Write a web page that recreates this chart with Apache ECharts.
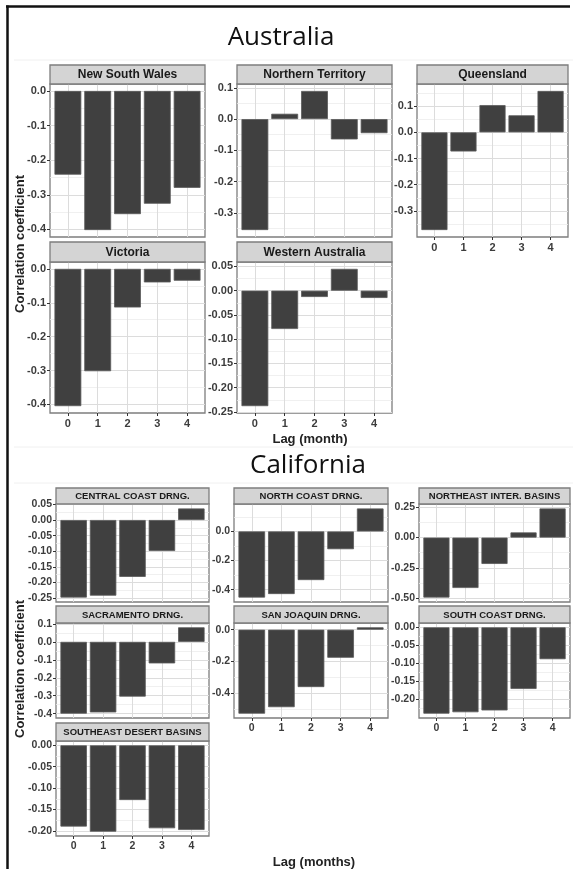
<!DOCTYPE html>
<html>
<head>
<meta charset="utf-8">
<script src="https://cdn.jsdelivr.net/npm/echarts@6/dist/echarts.min.js"></script>
<style>
html,body{margin:0;padding:0;background:#ffffff;}
#chart{width:573px;height:869px;}
</style>
</head>
<body>
<div id="chart"></div>
<script>
// ---------------- DATA ----------------
const lags = [0, 1, 2, 3, 4];
const lagLabels = ['0', '1', '2', '3', '4'];
const regionTitles = ['Australia', 'California'];
const xAxisTitles = ['Lag (month)', 'Lag (months)'];
const yAxisTitle = 'Correlation coefficient';

const australiaPanels = ['New South Wales', 'Northern Territory', 'Queensland', 'Victoria', 'Western Australia'];
const californiaPanels = ['CENTRAL COAST DRNG.', 'NORTH COAST DRNG.', 'NORTHEAST INTER. BASINS',
  'SACRAMENTO DRNG.', 'SAN JOAQUIN DRNG.', 'SOUTH COAST DRNG.', 'SOUTHEAST DESERT BASINS'];

const newSouthWales     = [-0.242, -0.402, -0.356, -0.326, -0.280];
const northernTerritory = [-0.355,  0.017,  0.090, -0.065, -0.045];
const queensland        = [-0.373, -0.073,  0.104,  0.065,  0.158];
const victoria          = [-0.405, -0.302, -0.114, -0.040, -0.035];
const westernAustralia  = [-0.238, -0.079, -0.013,  0.045, -0.015];

const centralCoast      = [-0.248, -0.242, -0.182, -0.099,  0.037];
const northCoast        = [-0.454, -0.430, -0.334, -0.122,  0.158];
const northeastInter    = [-0.496, -0.417, -0.218,  0.043,  0.241];
const sacramento        = [-0.400, -0.393, -0.305, -0.120,  0.081];
const sanJoaquin        = [-0.530, -0.489, -0.362, -0.177,  0.015];
const southCoast        = [-0.241, -0.237, -0.232, -0.172, -0.089];
const southeastDesert   = [-0.190, -0.202, -0.128, -0.194, -0.198];

const newSouthWalesTicks     = ['0.0', '-0.1', '-0.2', '-0.3', '-0.4'];
const northernTerritoryTicks = ['0.1', '0.0', '-0.1', '-0.2', '-0.3'];
const queenslandTicks        = ['0.1', '0.0', '-0.1', '-0.2', '-0.3'];
const victoriaTicks          = ['0.0', '-0.1', '-0.2', '-0.3', '-0.4'];
const westernAustraliaTicks  = ['0.05', '0.00', '-0.05', '-0.10', '-0.15', '-0.20', '-0.25'];
const centralCoastTicks      = ['0.05', '0.00', '-0.05', '-0.10', '-0.15', '-0.20', '-0.25'];
const northCoastTicks        = ['0.0', '-0.2', '-0.4'];
const northeastInterTicks    = ['0.25', '0.00', '-0.25', '-0.50'];
const sacramentoTicks        = ['0.1', '0.0', '-0.1', '-0.2', '-0.3', '-0.4'];
const sanJoaquinTicks        = ['0.0', '-0.2', '-0.4'];
const southCoastTicks        = ['0.00', '-0.05', '-0.10', '-0.15', '-0.20'];
const southeastDesertTicks   = ['0.00', '-0.05', '-0.10', '-0.15', '-0.20'];

const panelValues = [newSouthWales, northernTerritory, queensland, victoria, westernAustralia,
  centralCoast, northCoast, northeastInter, sacramento, sanJoaquin, southCoast, southeastDesert];
const panelTicks = [newSouthWalesTicks, northernTerritoryTicks, queenslandTicks, victoriaTicks, westernAustraliaTicks,
  centralCoastTicks, northCoastTicks, northeastInterTicks, sacramentoTicks, sanJoaquinTicks, southCoastTicks, southeastDesertTicks];
const panelNames = australiaPanels.concat(californiaPanels);

// ---------------- LAYOUT (styles/positions) ----------------
const auCols = [[50, 205], [237, 392], [417, 568]];
const auRows = [[65, 84, 237], [242, 262, 413]];
const caCols = [[56, 209], [234, 388], [419, 570]];
const caRows = [[488, 504, 602], [606, 623, 718], [723, 741, 836]];
// [colArray, rowArray, col, row, showXLabels, stripFontSize, tickFontSize]
const layout = [
  [auCols, auRows, 0, 0, false, 12, 11], [auCols, auRows, 1, 0, false, 12, 11], [auCols, auRows, 2, 0, true, 12, 11],
  [auCols, auRows, 0, 1, true, 12, 11], [auCols, auRows, 1, 1, true, 12, 11],
  [caCols, caRows, 0, 0, false, 9.5, 10.5], [caCols, caRows, 1, 0, false, 9.5, 10.5], [caCols, caRows, 2, 0, false, 9.5, 10.5],
  [caCols, caRows, 0, 1, false, 9.5, 10.5], [caCols, caRows, 1, 1, true, 9.5, 10.5], [caCols, caRows, 2, 1, true, 9.5, 10.5],
  [caCols, caRows, 0, 2, true, 9.5, 10.5]
];

const FONT = 'Liberation Sans, Arial, sans-serif';
const BAR = '#404040';
const GRID_MAJOR = '#dcdcdc';
const GRID_MINOR = '#ececec';
const PANEL_BORDER = '#7d7d7d';

const grids = [], xAxes = [], yAxes = [], series = [], graphics = [];

panelValues.forEach((vals, i) => {
  const [cols, rows, c, r, showX, stripFs, tickFs] = layout[i];
  const [x0, x1] = cols[c];
  const [sTop, pTop, pBot] = rows[r];
  const lo0 = Math.min(0, Math.min.apply(null, vals));
  const hi0 = Math.max(0, Math.max.apply(null, vals));
  const pad = (hi0 - lo0) * 0.05;
  const lo = lo0 - pad, hi = hi0 + pad;
  const tickLabels = panelTicks[i];
  const tickVals = tickLabels.map(Number);
  const step = Math.abs(tickVals[0] - tickVals[1]);
  const minor = [];
  tickVals.forEach(t => {
    [t + step / 2, t - step / 2].forEach(m => {
      if (m > lo && m < hi && !minor.some(q => Math.abs(q - m) < 1e-9)) minor.push(m);
    });
  });

  grids.push({
    left: x0, top: pTop, width: x1 - x0, height: pBot - pTop,
    show: true, backgroundColor: '#ffffff', borderColor: PANEL_BORDER, borderWidth: 1.3,
    containLabel: false, outerBoundsMode: 'none'
  });

  xAxes.push({
    type: 'value', gridIndex: i, min: -0.6, max: 4.6, position: 'bottom',
    axisLine: { show: false, onZero: false },
    axisTick: { show: showX, customValues: lags, length: 3, lineStyle: { color: '#333333', width: 1 } },
    axisLabel: {
      show: showX, customValues: lags, margin: 5,
      formatter: v => lagLabels[lags.indexOf(Math.round(v))],
      color: '#3c3c3c', fontWeight: 'bold', fontSize: tickFs, fontFamily: FONT
    },
    splitLine: { show: true, lineStyle: { color: GRID_MAJOR, width: 1 } }
  });

  yAxes.push({
    type: 'value', gridIndex: i, min: lo, max: hi, position: 'left',
    axisLine: { show: false, onZero: false },
    axisTick: { show: true, customValues: tickVals, length: 3, lineStyle: { color: '#333333', width: 1 } },
    axisLabel: {
      customValues: tickVals, margin: 4,
      formatter: v => {
        const k = tickVals.findIndex(t => Math.abs(t - v) < 1e-9);
        return k >= 0 ? tickLabels[k] : '';
      },
      color: '#3c3c3c', fontWeight: 'bold', fontSize: tickFs, fontFamily: FONT
    },
    splitLine: { show: true, lineStyle: { color: GRID_MAJOR, width: 1 } }
  });
  yAxes.push({
    type: 'value', gridIndex: i, min: lo, max: hi, position: 'right',
    axisLine: { show: false, onZero: false },
    axisTick: { show: false, customValues: minor },
    axisLabel: { show: false },
    splitLine: { show: true, lineStyle: { color: GRID_MINOR, width: 0.8 } }
  });

  series.push({
    type: 'bar', xAxisIndex: i, yAxisIndex: 2 * i,
    data: lags.map((l, j) => [l, vals[j]]),
    barWidth: '90%',
    itemStyle: { color: BAR, borderColor: '#5a5a5a', borderWidth: 0.8 },
    silent: true
  });

  // strip
  graphics.push({
    type: 'rect', shape: { x: x0, y: sTop, width: x1 - x0, height: pTop - sTop },
    style: { fill: '#d4d4d4', stroke: PANEL_BORDER, lineWidth: 1.3 }, z: 10
  });
  graphics.push({
    type: 'text', x: (x0 + x1) / 2, y: (sTop + pTop) / 2 + 0.5, z: 11,
    style: {
      text: panelNames[i], align: 'center', verticalAlign: 'middle',
      fill: '#1a1a1a', font: 'bold ' + stripFs + 'px ' + FONT
    }
  });
});

// frame and faint image separators
graphics.push({ type: 'line', shape: { x1: 6, y1: 6.5, x2: 570, y2: 6.5 }, style: { stroke: '#111111', lineWidth: 2.5 }, z: 20 });
graphics.push({ type: 'line', shape: { x1: 7.5, y1: 5.5, x2: 7.5, y2: 869 }, style: { stroke: '#111111', lineWidth: 2.5 }, z: 20 });
[60, 447, 483].forEach(yy => graphics.push({
  type: 'line', shape: { x1: 14, y1: yy, x2: 573, y2: yy }, style: { stroke: '#f0f0f0', lineWidth: 1 }, z: 1
}));

// region titles
graphics.push({ type: 'text', x: 281, y: 38, z: 12,
  style: { text: regionTitles[0], align: 'center', verticalAlign: 'middle', fill: '#111111', font: '26px "Open Sans", sans-serif' } });
graphics.push({ type: 'text', x: 308, y: 466, z: 12,
  style: { text: regionTitles[1], align: 'center', verticalAlign: 'middle', fill: '#111111', font: '26px "Open Sans", sans-serif' } });

// axis titles
graphics.push({ type: 'text', x: 310, y: 439, z: 12,
  style: { text: xAxisTitles[0], align: 'center', verticalAlign: 'middle', fill: '#222222', font: 'bold 13px ' + FONT } });
graphics.push({ type: 'text', x: 314, y: 862, z: 12,
  style: { text: xAxisTitles[1], align: 'center', verticalAlign: 'middle', fill: '#222222', font: 'bold 13px ' + FONT } });
graphics.push({ type: 'text', x: 20, y: 244, rotation: Math.PI / 2, z: 12,
  style: { text: yAxisTitle, align: 'center', verticalAlign: 'middle', fill: '#222222', font: 'bold 13px ' + FONT } });
graphics.push({ type: 'text', x: 20, y: 669, rotation: Math.PI / 2, z: 12,
  style: { text: yAxisTitle, align: 'center', verticalAlign: 'middle', fill: '#222222', font: 'bold 13px ' + FONT } });

const chart = echarts.init(document.getElementById('chart'), null, { renderer: 'canvas' });
chart.setOption({
  animation: false,
  backgroundColor: '#ffffff',
  grid: grids,
  xAxis: xAxes,
  yAxis: yAxes,
  series: series,
  graphic: graphics
});
</script>
</body>
</html>
